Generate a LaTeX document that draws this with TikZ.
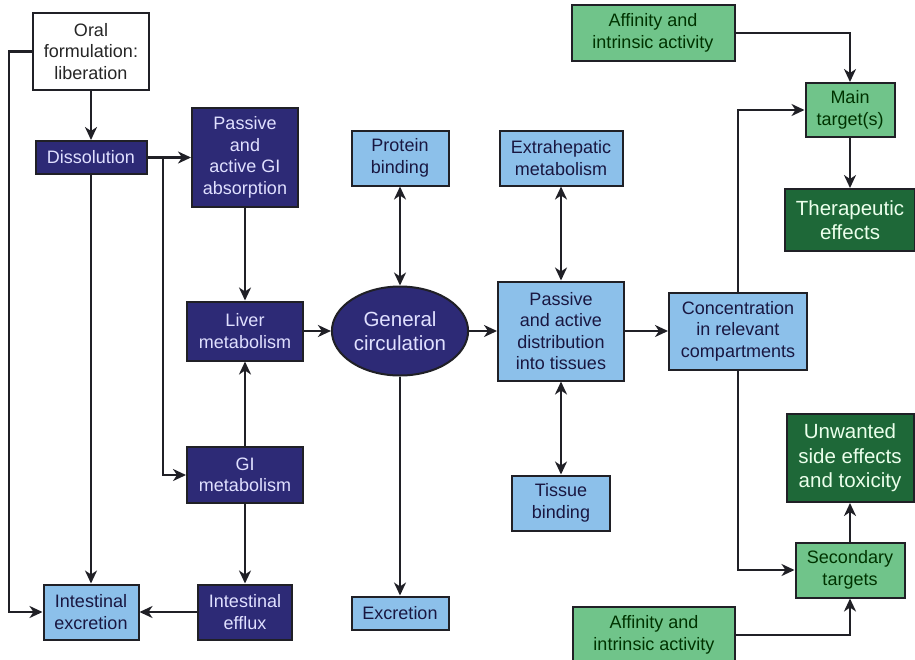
\documentclass[tikz,border=0pt]{standalone}
\usepackage{fontspec}
\setmainfont{Liberation Sans}
\usetikzlibrary{arrows.meta,shapes.geometric,positioning}

\definecolor{navy}{RGB}{45,42,118}
\definecolor{skyblue}{RGB}{140,192,234}
\definecolor{leaf}{RGB}{112,196,138}
\definecolor{forest}{RGB}{30,104,56}
\definecolor{inkline}{RGB}{32,32,38}

\tikzset{
  box/.style={draw=inkline,line width=2pt,align=center,inner sep=2pt,
              font=\fontsize{18}{21.5}\selectfont},
  whitebox/.style={box,fill=white,text=black!85},
  navybox/.style={box,fill=navy,text=white!88!blue},
  bluebox/.style={box,fill=skyblue,text=navy!55!black},
  greenbox/.style={box,fill=leaf,text=black!80!green},
  darkbox/.style={box,fill=forest,text=green!8!white,
                  font=\fontsize{20.5}{24.5}\selectfont},
  tip/.tip={Stealth[length=13pt,width=12pt,inset=4pt]},
  link/.style={line width=2.6pt,draw=inkline,-tip},
  twoway/.style={link,tip-tip}
}

\begin{document}
\begin{tikzpicture}[x=1pt,y=1pt,node distance=106pt]

  \useasboundingbox (0,0) rectangle (915,-659);
  \clip (0,0) rectangle (915,-659);

  % absorption side
  \node[whitebox,minimum width=116pt,minimum height=77pt] (oral) at (91,-51.5) {Oral\\formulation:\\liberation};
  \node[navybox,minimum width=111pt,minimum height=33pt] (dissol) [below of=oral] {Dissolution};
  \node[navybox,minimum width=106pt,minimum height=99pt] (absorb) at (245,-157.5) {Passive\\and\\active GI\\absorption};
  \node[navybox,minimum width=116pt,minimum height=59pt] (liver) at (245,-331) {Liver\\metabolism};
  \node[navybox,minimum width=116pt,minimum height=56pt] (gimet) at (245,-475) {GI\\metabolism};
  \node[navybox,minimum width=94pt,minimum height=55pt] (efflux) at (245,-612) {Intestinal\\efflux};
  \node[bluebox,minimum width=95pt,minimum height=55pt] (intexc) at (91,-612) {Intestinal\\excretion};

  % circulation and distribution
  \node[navybox,ellipse,minimum width=114pt,minimum height=89pt,
        font=\fontsize{20.5}{24.5}\selectfont] (circ) at (400,-331) {General\\circulation};
  \node[bluebox,minimum width=97pt,minimum height=55pt] (protein) at (400,-158) {Protein\\binding};
  \node[bluebox,minimum width=97pt,minimum height=33pt] (excr) at (400,-613) {Excretion};
  \node[bluebox,minimum width=126pt,minimum height=99pt] (distrib) at (561,-331) {Passive\\and active\\distribution\\into tissues};
  \node[bluebox,minimum width=123pt,minimum height=55pt] (extra) at (561,-158) {Extrahepatic\\metabolism};
  \node[bluebox,minimum width=98pt,minimum height=55pt] (tissue) at (561,-503) {Tissue\\binding};
  \node[bluebox,minimum width=138pt,minimum height=77pt] (conc) at (738,-331) {Concentration\\in relevant\\compartments};

  % targets and effects
  \node[greenbox,minimum width=163pt,minimum height=56pt] (affA) at (653,-33) {Affinity and\\intrinsic activity};
  \node[greenbox,minimum width=89pt,minimum height=54pt] (main) at (850,-110) {Main\\target(s)};
  \node[darkbox,minimum width=130pt,minimum height=62pt] (thera) at (850,-220) {Therapeutic\\effects};
  \node[darkbox,minimum width=127pt,minimum height=88pt] (unwant) at (850,-458) {Unwanted\\side effects\\and toxicity};
  \node[greenbox,minimum width=109pt,minimum height=55pt] (second) at (850,-570) {Secondary\\targets};
  \node[greenbox,minimum width=162pt,minimum height=56pt] (affB) at (654,-635) {Affinity and\\intrinsic activity};

  \coordinate (split) at (163,-157.5);

  \draw[link] (oral.west) -- ++(-23,0) |- (intexc.west);
  \draw[link] (oral) -- (dissol);
  \draw[link] (dissol) -- (intexc);
  \draw[link] (dissol) -- (absorb);
  \draw[link] (split) |- (gimet.west);
  \draw[link] (absorb) -- (liver);
  \draw[link] (gimet) -- (liver);
  \draw[link] (gimet) -- (efflux);
  \draw[link] (efflux) -- (intexc);

  \draw[link] (liver) -- (circ);
  \draw[twoway] (protein) -- (circ);
  \draw[link] (circ) -- (excr);
  \draw[link] (circ) -- (distrib);
  \draw[twoway] (extra) -- (distrib);
  \draw[twoway] (tissue) -- (distrib);
  \draw[link] (distrib) -- (conc);

  \draw[link] (conc.north) |- (main.west);
  \draw[link] (conc.south) |- (second.west);
  \draw[link] (affA.east) -| (main.north);
  \draw[link] (main) -- (thera);
  \draw[link] (second) -- (unwant);
  \draw[link] (affB.east) -| (second.south);

\end{tikzpicture}
\end{document}
